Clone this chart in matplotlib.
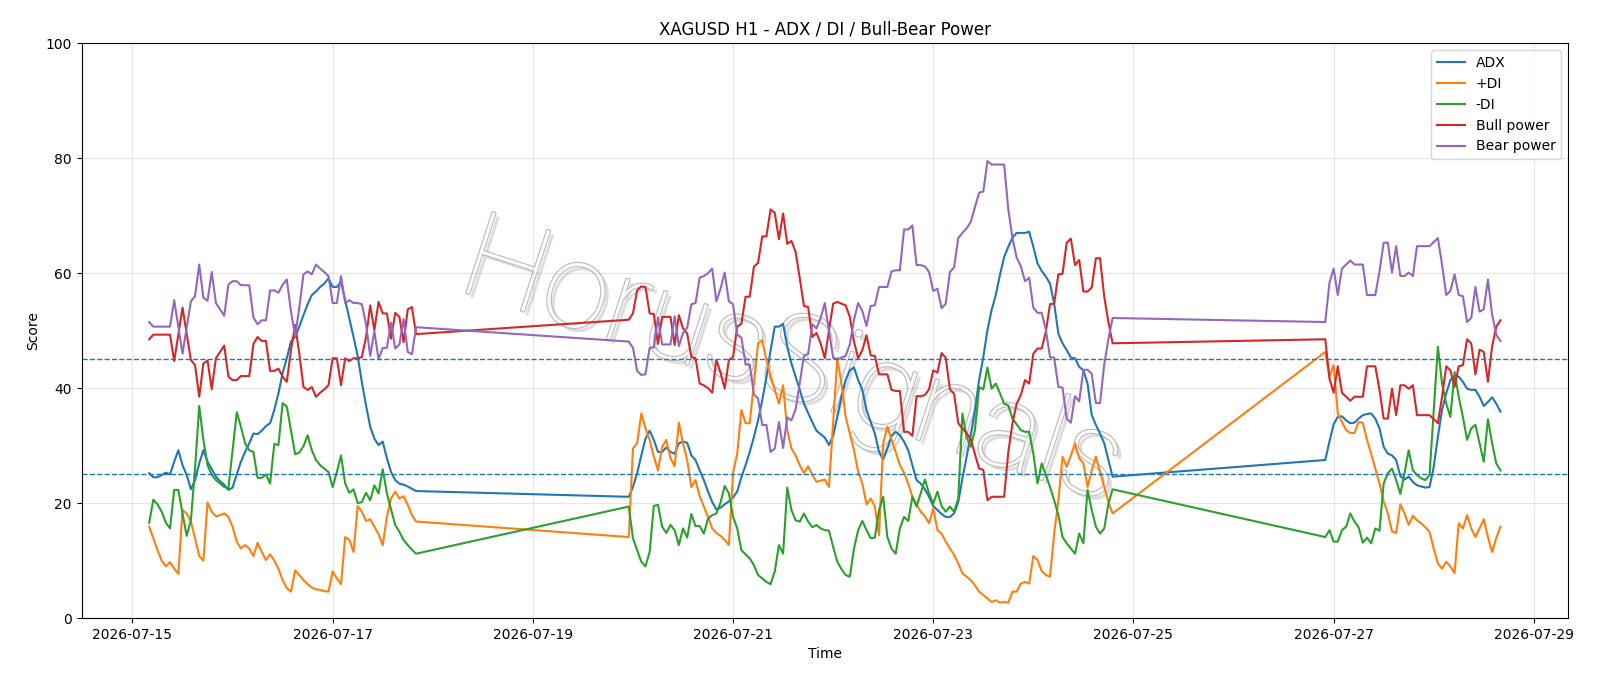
import matplotlib
matplotlib.use("Agg")
import matplotlib.pyplot as plt
import matplotlib.dates as mdates
import matplotlib.patheffects as pe
import pandas as pd

# hourly sessions (market closed on the weekends)
sessions = [("2026-07-15 04:00", "2026-07-17 20:00"),
            ("2026-07-19 23:00", "2026-07-24 19:00"),
            ("2026-07-26 22:00", "2026-07-28 16:00")]

adx = [
    # session 1
    25.2, 24.5, 24.5, 24.9, 25.3, 25.0, 27.2, 29.2, 26.6, 24.9,
    22.4, 24.0, 26.9, 29.2, 27.2, 25.9, 24.6, 23.8, 23.2, 22.3,
    22.7, 25.0, 27.2, 28.9, 30.4, 32.1, 32.0, 32.6, 33.4, 33.9,
    36.2, 39.1, 42.6, 45.2, 48.1, 48.9, 50.7, 52.7, 54.6, 56.2,
    56.8, 57.6, 58.2, 59.1, 57.6, 57.6, 58.5, 55.3, 52.1, 48.9,
    45.6, 41.0, 37.0, 33.3, 31.2, 30.1, 30.7, 27.8, 25.4, 24.0,
    23.4, 23.2, 22.9, 22.5, 22.1,
    # session 2
    21.1, 22.8, 25.2, 28.3, 31.2, 32.6, 31.0, 28.9, 28.9, 29.7,
    28.9, 28.6, 30.4, 30.7, 30.5, 28.3, 27.5, 25.7, 24.0, 22.0,
    20.2, 18.9, 19.2, 19.8, 20.3, 21.0, 22.0, 24.5, 26.6, 28.9,
    31.5, 34.4, 37.9, 41.9, 46.6, 50.7, 50.7, 51.2, 47.2, 44.3,
    42.0, 39.7, 37.3, 35.7, 34.1, 32.6, 32.0, 31.4, 30.1, 31.7,
    35.0, 38.5, 41.4, 43.1, 43.6, 41.4, 39.7, 36.2, 34.1, 32.1,
    28.9, 27.6, 29.5, 31.7, 32.4, 31.8, 30.7, 29.2, 26.6, 24.0,
    23.4, 22.4, 21.1, 19.5, 18.8, 18.1, 17.6, 17.6, 18.2, 20.2,
    24.3, 28.1, 31.8, 36.2, 41.4, 45.4, 50.1, 53.6, 56.2, 59.7,
    62.8, 64.6, 66.2, 67.0, 67.0, 67.0, 67.2, 64.6, 61.7, 60.4,
    59.4, 58.2, 54.7, 49.5, 47.8, 46.6, 45.3, 45.2, 43.7, 43.1,
    40.8, 35.3, 33.6, 32.1, 30.4, 27.5, 24.6,
    # session 3
    27.5, 30.7, 33.7, 35.0, 35.1, 34.4, 33.9, 34.0, 34.7, 35.3,
    35.5, 35.6, 34.7, 33.0, 29.8, 28.6, 28.3, 27.5, 24.7, 24.1,
    24.6, 23.7, 23.1, 22.9, 22.7, 22.8, 26.3, 31.5, 36.2, 39.1,
    41.4, 42.1, 42.0, 41.1, 39.9, 39.7, 39.7, 38.5, 36.9, 37.6,
    38.4, 37.3, 35.9,
]

plus_di = [
    15.9, 13.9, 11.8, 10.0, 9.0, 9.7, 8.6, 7.7, 18.8, 18.2,
    16.8, 13.9, 10.8, 10.0, 20.1, 18.5, 17.7, 17.9, 18.2, 17.6,
    15.9, 13.3, 12.1, 12.7, 12.1, 10.8, 13.1, 11.5, 10.1, 11.1,
    10.0, 8.6, 6.6, 5.2, 4.6, 8.3, 7.5, 6.6, 5.9, 5.3,
    5.0, 4.9, 4.7, 4.6, 8.1, 6.9, 5.9, 14.1, 13.6, 11.5,
    19.5, 18.5, 16.9, 17.2, 15.9, 14.6, 12.7, 17.6, 20.8, 22.0,
    20.8, 21.2, 19.7, 17.9, 16.8,
    14.1, 29.5, 30.4, 35.6, 33.0, 31.0, 28.1, 25.7, 29.8, 31.0,
    27.8, 26.4, 34.0, 30.4, 27.5, 22.8, 24.0, 21.2, 19.4, 17.6,
    15.6, 14.8, 14.3, 13.6, 12.7, 25.3, 28.6, 36.2, 33.9, 33.9,
    40.8, 47.8, 48.3, 44.9, 42.0, 39.7, 37.3, 40.5, 32.7, 29.5,
    28.3, 26.6, 25.2, 26.4, 24.9, 23.7, 23.9, 24.1, 22.8, 33.9,
    45.2, 40.8, 35.0, 32.1, 29.2, 25.4, 23.4, 19.8, 20.8, 19.4,
    14.4, 30.4, 33.3, 31.0, 28.9, 26.6, 25.3, 23.4, 21.1, 19.8,
    18.5, 17.7, 16.5, 19.1, 15.3, 14.7, 13.3, 12.1, 11.0, 9.5,
    7.8, 7.2, 6.6, 5.7, 4.6, 4.0, 3.4, 2.8, 3.1, 2.7,
    2.8, 2.7, 4.6, 4.6, 6.0, 6.3, 6.0, 10.8, 10.1, 8.2,
    7.5, 7.2, 14.7, 20.5, 28.1, 26.3, 28.3, 30.4, 27.8, 26.9,
    22.8, 25.7, 28.1, 25.4, 22.8, 20.2, 18.2,
    46.3, 42.0, 44.0, 35.6, 34.1, 32.7, 32.2, 32.2, 34.1, 34.0,
    31.0, 28.6, 26.0, 23.4, 20.3, 18.2, 15.1, 14.8, 19.8, 18.2,
    16.2, 17.8, 17.0, 16.5, 15.8, 15.0, 12.1, 9.5, 8.6, 9.8,
    9.0, 7.8, 16.5, 15.6, 17.9, 15.6, 14.1, 15.6, 17.2, 14.1,
    11.5, 13.9, 15.9,
]

minus_di = [
    16.6, 20.6, 19.8, 18.5, 16.6, 15.6, 22.3, 22.3, 18.2, 14.3,
    17.0, 26.0, 36.9, 31.0, 26.6, 24.9, 24.0, 23.4, 22.8, 22.6,
    29.2, 35.8, 33.3, 30.4, 29.2, 28.9, 24.4, 24.4, 25.0, 23.4,
    30.3, 30.1, 37.4, 36.8, 32.7, 28.5, 28.8, 29.9, 31.8, 29.2,
    27.5, 26.6, 26.0, 25.4, 22.8, 25.4, 28.3, 23.4, 21.8, 22.4,
    20.0, 20.2, 21.8, 20.5, 23.1, 21.7, 25.9, 21.7, 18.9, 16.2,
    15.0, 13.6, 12.7, 11.9, 11.2,
    19.4, 13.9, 11.8, 9.8, 9.0, 11.5, 19.5, 19.7, 15.9, 14.8,
    16.2, 15.3, 12.7, 15.6, 14.0, 18.1, 16.0, 16.0, 14.7, 17.3,
    17.9, 18.2, 20.1, 23.0, 21.7, 17.6, 15.6, 11.8, 11.1, 10.4,
    9.2, 7.5, 6.9, 6.3, 5.9, 8.1, 12.7, 11.2, 22.7, 18.8,
    17.0, 16.8, 18.2, 16.8, 15.8, 16.2, 15.6, 15.3, 15.2, 12.4,
    9.8, 8.5, 7.5, 7.2, 12.1, 15.3, 16.9, 15.3, 13.9, 14.0,
    18.8, 21.1, 14.1, 12.1, 11.2, 15.6, 17.6, 16.9, 21.1, 19.4,
    21.7, 24.1, 21.7, 19.9, 22.0, 19.5, 18.5, 19.4, 18.5, 20.8,
    35.6, 31.5, 29.8, 32.7, 40.2, 39.8, 43.6, 39.9, 40.8, 39.1,
    37.3, 37.0, 34.7, 33.7, 32.7, 32.4, 32.4, 28.6, 23.4, 26.9,
    24.9, 22.8, 20.5, 17.9, 14.1, 13.0, 12.1, 11.2, 14.7, 13.0,
    22.3, 18.8, 15.9, 14.7, 15.6, 19.9, 22.4,
    14.1, 15.3, 13.3, 13.3, 15.3, 15.9, 18.2, 16.8, 15.8, 13.1,
    14.0, 13.0, 15.6, 15.2, 23.4, 25.2, 26.0, 24.0, 21.6, 25.2,
    29.2, 25.7, 24.9, 24.3, 24.0, 24.9, 36.0, 47.2, 40.8, 37.3,
    35.0, 42.8, 38.5, 35.0, 31.0, 33.0, 33.6, 30.4, 27.2, 34.6,
    30.4, 26.9, 25.7,
]

bull_power = [
    48.5, 49.3, 49.3, 49.3, 49.3, 49.3, 44.7, 49.4, 54.0, 49.5,
    44.9, 44.0, 38.5, 44.3, 44.8, 39.8, 45.2, 46.3, 47.4, 42.0,
    41.4, 41.4, 42.1, 42.1, 42.1, 47.7, 48.9, 48.2, 48.2, 43.0,
    43.0, 43.4, 42.0, 41.1, 46.6, 51.0, 46.0, 40.2, 39.7, 40.2,
    38.5, 39.2, 39.8, 40.5, 45.2, 45.2, 40.5, 45.2, 44.7, 45.2,
    45.2, 45.4, 48.9, 54.4, 50.1, 55.0, 53.0, 53.0, 48.6, 53.1,
    52.4, 48.0, 53.7, 54.1, 49.4,
    51.9, 53.0, 57.0, 57.7, 57.6, 53.0, 52.9, 47.7, 52.4, 52.4,
    52.4, 47.5, 52.7, 50.4, 49.5, 45.4, 45.2, 40.8, 40.5, 40.0,
    39.2, 44.9, 42.7, 39.9, 44.9, 45.4, 50.7, 51.2, 55.9, 55.9,
    61.1, 61.8, 66.4, 66.4, 71.1, 70.5, 65.9, 70.4, 65.1, 65.6,
    63.7, 59.1, 54.3, 54.1, 48.9, 49.6, 47.8, 45.2, 50.1, 54.7,
    55.0, 54.7, 54.4, 52.4, 48.1, 45.2, 46.6, 49.2, 45.7, 45.6,
    42.4, 42.4, 42.4, 39.7, 39.5, 39.5, 32.4, 32.4, 31.7, 38.6,
    38.6, 38.8, 39.8, 43.1, 42.7, 46.1, 45.3, 39.8, 39.0, 33.9,
    33.0, 32.2, 31.1, 28.5, 26.0, 25.8, 20.5, 21.1, 21.1, 21.1,
    21.1, 28.9, 33.9, 37.3, 38.8, 41.4, 40.8, 46.0, 46.9, 46.9,
    49.8, 54.6, 54.7, 59.8, 59.9, 65.3, 66.0, 61.4, 62.3, 56.8,
    56.8, 57.5, 62.6, 62.6, 55.9, 51.5, 47.8,
    48.5, 41.7, 39.2, 43.8, 39.2, 38.5, 37.8, 38.5, 38.5, 38.5,
    43.8, 43.8, 43.8, 39.7, 34.7, 34.7, 39.9, 35.3, 40.5, 40.5,
    39.9, 40.5, 35.3, 35.3, 35.3, 35.3, 34.6, 33.9, 38.5, 43.8,
    43.1, 40.2, 43.8, 44.0, 48.5, 47.8, 42.4, 46.7, 46.3, 41.1,
    47.2, 50.7, 51.8,
]

bear_power = [
    51.5, 50.7, 50.7, 50.7, 50.7, 50.7, 55.3, 50.6, 46.0, 50.5,
    55.1, 56.0, 61.5, 55.7, 55.2, 60.2, 54.8, 53.7, 52.6, 58.0,
    58.6, 58.6, 57.9, 57.9, 57.9, 52.3, 51.1, 51.8, 51.8, 57.0,
    57.0, 56.6, 58.0, 58.9, 53.4, 49.0, 54.0, 59.8, 60.3, 59.8,
    61.5, 60.8, 60.2, 59.5, 54.8, 54.8, 59.5, 54.8, 55.3, 54.8,
    54.8, 54.6, 51.1, 45.6, 49.9, 45.0, 47.0, 47.0, 51.4, 46.9,
    47.6, 52.0, 46.3, 45.9, 50.6,
    48.1, 47.0, 43.0, 42.3, 42.4, 47.0, 47.1, 52.3, 47.6, 47.6,
    47.6, 52.5, 47.3, 49.6, 50.5, 54.6, 54.8, 59.2, 59.5, 60.0,
    60.8, 55.1, 57.3, 60.1, 55.1, 54.6, 49.3, 48.8, 44.1, 44.1,
    38.9, 38.2, 33.6, 33.6, 28.9, 29.5, 34.1, 29.6, 34.9, 34.4,
    36.3, 40.9, 45.7, 45.9, 51.1, 50.4, 52.2, 54.8, 49.9, 45.3,
    45.0, 45.3, 45.6, 47.6, 51.9, 54.8, 53.4, 50.8, 54.3, 54.4,
    57.6, 57.6, 57.6, 60.3, 60.5, 60.5, 67.6, 67.6, 68.3, 61.4,
    61.4, 61.2, 60.2, 56.9, 57.3, 53.9, 54.7, 60.2, 61.0, 66.1,
    67.0, 67.8, 68.9, 71.5, 74.0, 74.2, 79.5, 78.9, 78.9, 78.9,
    78.9, 71.1, 66.1, 62.7, 61.2, 58.6, 59.2, 54.0, 53.1, 53.1,
    50.2, 45.4, 45.3, 40.2, 40.1, 34.7, 34.0, 38.6, 37.7, 43.2,
    43.2, 42.5, 37.4, 37.4, 44.1, 48.5, 52.2,
    51.5, 58.3, 60.8, 56.2, 60.8, 61.5, 62.2, 61.5, 61.5, 61.5,
    56.2, 56.2, 56.2, 60.3, 65.3, 65.3, 60.1, 64.7, 59.5, 59.5,
    60.1, 59.5, 64.7, 64.7, 64.7, 64.7, 65.4, 66.1, 61.5, 56.2,
    56.9, 59.8, 56.2, 56.0, 51.5, 52.2, 57.6, 53.3, 53.7, 58.9,
    52.8, 49.3, 48.2,
]

levels = [25, 45]
tick_dates = ["2026-07-15", "2026-07-17", "2026-07-19", "2026-07-21",
              "2026-07-23", "2026-07-25", "2026-07-27", "2026-07-29"]

times = pd.DatetimeIndex([])
for start, end in sessions:
    times = times.append(pd.date_range(start, end, freq="h"))

fig, ax = plt.subplots(figsize=(16, 6.86), dpi=100)
fig.subplots_adjust(left=0.051, right=0.98, top=0.937, bottom=0.099)

ax.plot(times, adx, label="ADX")
ax.plot(times, plus_di, label="+DI")
ax.plot(times, minus_di, label="-DI")
ax.plot(times, bull_power, label="Bull power")
ax.plot(times, bear_power, label="Bear power")
for lv in levels:
    ax.axhline(lv, color="tab:blue", linestyle="--", linewidth=1)

ax.set_ylim(0, 100)
ax.set_xticks(pd.to_datetime(tick_dates))
ax.xaxis.set_major_formatter(mdates.DateFormatter("%Y-%m-%d"))
ax.grid(True, alpha=0.3)
ax.set_title("XAGUSD H1 - ADX / DI / Bull-Bear Power")
ax.set_xlabel("Time")
ax.set_ylabel("Score")
ax.legend(loc="upper right")

# watermark (hollow grey letters with a soft shadow)
ax.text(0.478, 0.44, "HorusSignals", transform=ax.transAxes, fontsize=86,
        family="Roboto", fontweight="light", color="white", alpha=0.9,
        rotation=-18, ha="center", va="center", zorder=1,
        path_effects=[pe.withSimplePatchShadow(offset=(3, -3), shadow_rgbFace="#bdbdbd", alpha=0.5),
                      pe.Stroke(linewidth=1.6, foreground="#b5b5b5"),
                      pe.Normal()])

fig.savefig("out.png")
